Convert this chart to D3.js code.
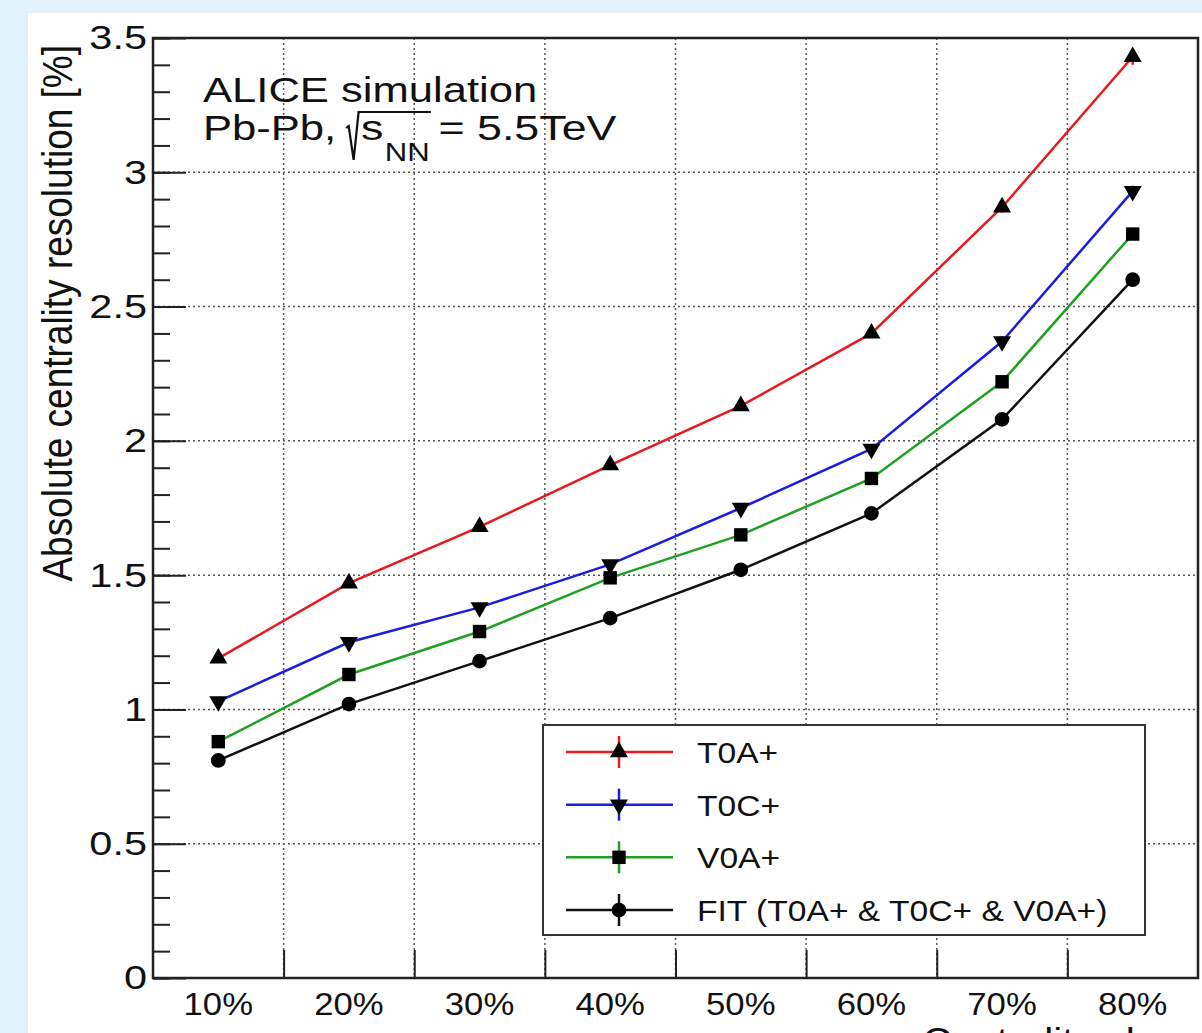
<!DOCTYPE html>
<html>
<head>
<meta charset="utf-8">
<script src="https://cdn.jsdelivr.net/npm/d3@7"></script>
<style>
  html, body { margin: 0; padding: 0; background: #e1f2fd; overflow: hidden; }
  text { font-family: "Liberation Sans", Arial, sans-serif; fill: #111; }
</style>
</head>
<body>
<div id="chart"></div>
<script>
// centrality classes and resolution values (%)
var categories = ["10%", "20%", "30%", "40%", "50%", "60%", "70%", "80%"];
var t0a = [1.19, 1.47, 1.68, 1.91, 2.13, 2.40, 2.87, 3.43];
var t0c = [1.03, 1.25, 1.38, 1.54, 1.75, 1.97, 2.37, 2.93];
var v0a = [0.88, 1.13, 1.29, 1.49, 1.65, 1.86, 2.22, 2.77];
var fit = [0.81, 1.02, 1.18, 1.34, 1.52, 1.73, 2.08, 2.60];
var t0aErr = [0.01, 0.01, 0.01, 0.01, 0.01, 0.01, 0.02, 0.03];
var t0cErr = [0.01, 0.01, 0.01, 0.01, 0.01, 0.01, 0.02, 0.02];
var v0aErr = [0.01, 0.01, 0.01, 0.01, 0.01, 0.01, 0.01, 0.02];
var fitErr = [0.01, 0.01, 0.01, 0.01, 0.01, 0.01, 0.01, 0.02];
var yMajor = [0, 0.5, 1, 1.5, 2, 2.5, 3, 3.5];
var yMinor = d3.range(0, 36).map(function(d) { return d / 10; });

var series = [
  {name: "T0A+", values: t0a, errs: t0aErr, color: "#e8191c", symbol: "up"},
  {name: "T0C+", values: t0c, errs: t0cErr, color: "#1c1ce0", symbol: "down"},
  {name: "V0A+", values: v0a, errs: v0aErr, color: "#20a020", symbol: "square"},
  {name: "FIT (T0A+ & T0C+ & V0A+)", values: fit, errs: fitErr, color: "#111111", symbol: "circle"}
];

var W = 1202, H = 1033;
var margin = {top: 38, right: 4, bottom: 55, left: 153};
var width = W - margin.left - margin.right,
    height = H - margin.top - margin.bottom;

var svg = d3.select("#chart").append("svg")
    .attr("width", W)
    .attr("height", H);

// white pad on light blue page
svg.append("rect")
    .attr("x", 28).attr("y", 13)
    .attr("width", W - 28).attr("height", H - 13)
    .attr("fill", "white");

var g = svg.append("g")
    .attr("transform", "translate(" + margin.left + "," + margin.top + ")");

var x = d3.scaleBand().domain(categories).range([0, width]).padding(0);
var y = d3.scaleLinear().domain([0, 3.5]).range([height, 0]);
var bw = x.bandwidth();

function cx(i) { return x(categories[i]) + bw / 2; }

// dotted grid
g.append("g").selectAll("line")
    .data(yMajor.filter(function(d) { return d > 0 && d < 3.5; }))
    .enter().append("line")
    .attr("x1", 0).attr("x2", width)
    .attr("y1", function(d) { return y(d); })
    .attr("y2", function(d) { return y(d); })
    .attr("stroke", "#555").attr("stroke-width", 1.5)
    .attr("stroke-dasharray", "2,3");

g.append("g").selectAll("line")
    .data(categories.slice(1))
    .enter().append("line")
    .attr("x1", function(d) { return x(d); })
    .attr("x2", function(d) { return x(d); })
    .attr("y1", 0).attr("y2", height)
    .attr("stroke", "#555").attr("stroke-width", 1.5)
    .attr("stroke-dasharray", "2,3");

// y axis: minor + major ticks pointing inward
var yMinorAxis = g.append("g")
    .call(d3.axisLeft(y).tickValues(yMinor).tickSize(-17).tickFormat(""));
var yAxis = g.append("g")
    .call(d3.axisLeft(y).tickValues(yMajor).tickSize(-33).tickPadding(6)
      .tickFormat(function(d) { return d3.format("")(d); }));
[yMinorAxis, yAxis].forEach(function(a) {
  a.select(".domain").remove();
  a.selectAll(".tick line").attr("stroke", "#222").attr("stroke-width", 2);
});
yAxis.selectAll(".tick text")
    .attr("x", null)
    .attr("transform", "translate(-6,0) scale(1.22,1)")
    .style("font-size", "34px")
    .attr("fill", "#111");

// x axis: ticks at class boundaries, labels at class centres
var xTicks = g.append("g")
    .attr("transform", "translate(0," + height + ")")
    .call(d3.axisBottom(d3.scaleLinear().domain([0, 1]).range([0, 1]))
      .tickValues(categories.slice(1).map(function(d) { return x(d); }))
      .tickSize(-28).tickFormat(""));
xTicks.select(".domain").remove();
xTicks.selectAll(".tick line").attr("stroke", "#222").attr("stroke-width", 2);

var xAxis = g.append("g")
    .attr("transform", "translate(0," + height + ")")
    .call(d3.axisBottom(x).tickSize(0).tickPadding(15));
xAxis.select(".domain").remove();
xAxis.selectAll(".tick text")
    .attr("transform", "scale(1.12,1)")
    .style("font-size", "31px")
    .attr("fill", "#111");

// frame
g.append("rect")
    .attr("width", width).attr("height", height)
    .attr("fill", "none").attr("stroke", "#222").attr("stroke-width", 2.5);

// axis titles
g.append("text")
    .attr("transform", "translate(" + (72 - margin.left) + "," + (45 - margin.top) + ") rotate(-90) scale(1,1.15)")
    .attr("text-anchor", "end")
    .style("font-size", "37px")
    .text("Absolute centrality resolution [%]");

g.append("text")
    .attr("transform", "translate(" + width + "," + (height + 76) + ") scale(1.1,1)")
    .attr("text-anchor", "end")
    .style("font-size", "37px")
    .text("Centrality class");

// markers
var symbols = {
  up: d3.symbol().type(d3.symbolTriangle).size(140),
  down: d3.symbol().type(d3.symbolTriangle).size(140),
  square: d3.symbol().type(d3.symbolSquare).size(180),
  circle: d3.symbol().type(d3.symbolCircle).size(170)
};
function marker(sel, s) {
  sel.attr("d", symbols[s.symbol]())
     .attr("fill", "#000");
}

var line = d3.line()
    .x(function(d, i) { return cx(i); })
    .y(function(d) { return y(d); });

series.forEach(function(s) {
  var sg = g.append("g");
  sg.append("path")
      .attr("d", line(s.values))
      .attr("fill", "none")
      .attr("stroke", s.color)
      .attr("stroke-width", 2.5);
  sg.selectAll("line.err")
      .data(s.values)
      .enter().append("line")
      .attr("class", "err")
      .attr("x1", function(d, i) { return cx(i); })
      .attr("x2", function(d, i) { return cx(i); })
      .attr("y1", function(d, i) { return y(d + s.errs[i]); })
      .attr("y2", function(d, i) { return y(d - s.errs[i]); })
      .attr("stroke", s.color).attr("stroke-width", 2.5);
  sg.selectAll("path.m")
      .data(s.values)
      .enter().append("path")
      .attr("class", "m")
      .call(marker, s)
      .attr("transform", function(d, i) {
        return "translate(" + cx(i) + "," + y(d) + ")" + (s.symbol === "down" ? " rotate(180)" : "");
      });
});

// annotation
var ann = svg.append("g").attr("transform", "translate(203,0) scale(1.245,1)");
ann.append("text").attr("x", 0).attr("y", 102).style("font-size", "35px").text("ALICE simulation");
var p1 = ann.append("text").attr("x", 0).attr("y", 140).style("font-size", "35px").text("Pb-Pb,");
var px = p1.node().getComputedTextLength() + 8;
var sText = ann.append("text").attr("x", px + 12).attr("y", 140).style("font-size", "36px").text("s");
var sw = sText.node().getComputedTextLength();
var nn = ann.append("text").attr("x", px + 12 + sw + 1).attr("y", 161).style("font-size", "25px").text("NN");
var nw = nn.node().getComputedTextLength();
var rootEnd = px + 12 + sw + 1 + nw + 1;
ann.append("path")
    .attr("d", "M" + px + "," + 128 + " L" + (px + 2) + "," + 126 + " L" + (px + 6) + "," + 160 +
               " L" + (px + 10) + "," + 112 + " L" + rootEnd + "," + 112)
    .attr("fill", "none").attr("stroke", "#111").attr("stroke-width", 1.8);
ann.append("text").attr("x", rootEnd + 6).attr("y", 140).style("font-size", "36px").text("= 5.5TeV");

// legend
var lg = svg.append("g");
lg.append("rect")
    .attr("x", 543).attr("y", 725).attr("width", 602).attr("height", 210)
    .attr("fill", "white").attr("stroke", "#333").attr("stroke-width", 2);
var rowY = d3.scalePoint().domain(series.map(function(s) { return s.name; })).range([752, 910]);
series.forEach(function(s) {
  var ry = rowY(s.name);
  lg.append("line").attr("x1", 566).attr("x2", 673).attr("y1", ry).attr("y2", ry)
      .attr("stroke", s.color).attr("stroke-width", 2.5);
  lg.append("line").attr("x1", 619).attr("x2", 619).attr("y1", ry - 16).attr("y2", ry + 16)
      .attr("stroke", s.color).attr("stroke-width", 2.5);
  lg.append("path").call(marker, s)
      .attr("transform", "translate(619," + ry + ")" + (s.symbol === "down" ? " rotate(180)" : ""));
  lg.append("text")
      .attr("transform", "translate(697," + (ry + 11) + ") scale(1.12,1)")
      .style("font-size", "30px")
      .text(s.name);
});
</script>
</body>
</html>
